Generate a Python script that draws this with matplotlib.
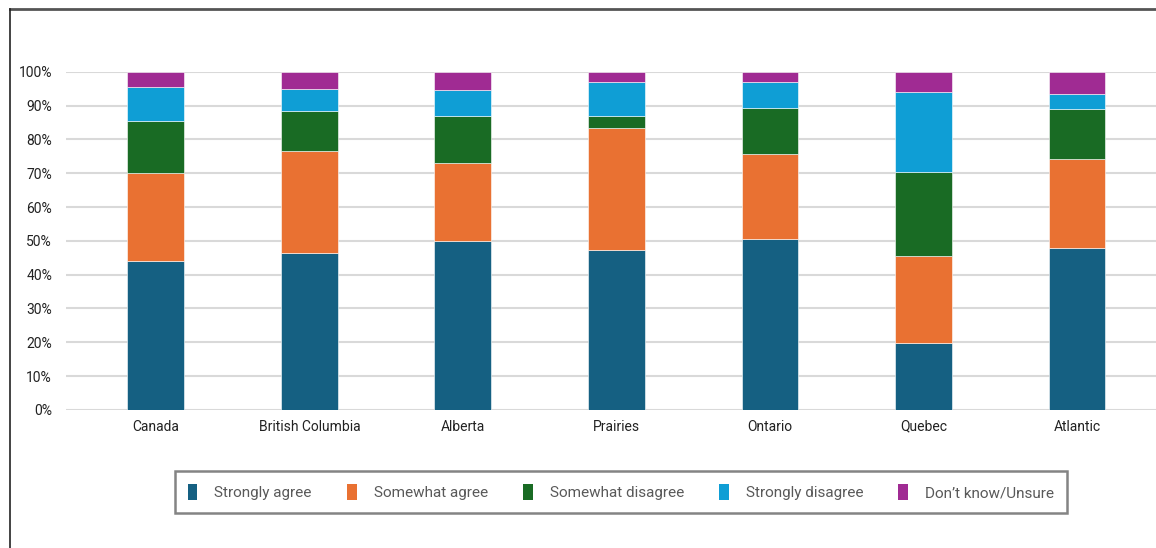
import matplotlib
matplotlib.use("Agg")
import matplotlib.pyplot as plt
import numpy as np
from matplotlib.patches import Patch
from matplotlib.lines import Line2D

plt.rcParams['font.family'] = ['Liberation Sans Narrow', 'Roboto', 'DejaVu Sans']

regions = ['Canada', 'British Columbia', 'Alberta', 'Prairies', 'Ontario', 'Quebec', 'Atlantic']
series = ['Strongly agree', 'Somewhat agree', 'Somewhat disagree', 'Strongly disagree', 'Don\u2019t know/Unsure']

strongly_agree = [44.0, 46.4, 50.0, 47.4, 50.5, 19.8, 47.9]
somewhat_agree = [26.0, 30.2, 23.1, 35.9, 25.1, 25.6, 26.3]
somewhat_disagree = [15.4, 11.7, 13.7, 3.5, 13.8, 25.1, 14.7]
strongly_disagree = [10.2, 6.7, 7.8, 10.3, 7.7, 23.5, 4.6]
dont_know = [4.4, 5.0, 5.4, 2.9, 2.9, 6.0, 6.5]

colors = ['#156082', '#E97132', '#196B24', '#0F9ED5', '#A02B93']

fig = plt.figure(figsize=(11.56, 5.48), dpi=100)
ax = fig.add_axes([0.057, 0.252, 0.943, 0.617])

x = np.arange(len(regions))
bottom = np.zeros(len(regions))
for vals, name, c in zip([strongly_agree, somewhat_agree, somewhat_disagree, strongly_disagree, dont_know],
                         series, colors):
    ax.bar(x, vals, 0.37, bottom=bottom, color=c, edgecolor='white', linewidth=0.4, label=name, zorder=3)
    bottom += np.array(vals)

ax.set_ylim(0, 100)
ax.set_xlim(-0.586, 6.515)
ax.set_yticks(range(0, 101, 10))
ax.set_yticklabels([f'{v}%' for v in range(0, 101, 10)])
ax.set_xticks(x)
ax.set_xticklabels(regions)
ax.tick_params(axis='both', length=0, labelsize=10, colors='#222222')
ax.tick_params(axis='y', pad=10)
ax.tick_params(axis='x', pad=7)
ax.grid(axis='y', color='#d9d9d9', lw=1.5, zorder=0)
for s in ax.spines.values():
    s.set_visible(False)

# outer frame (only top and left visible)
fig.add_artist(Line2D([0.0087, 1.0], [0.9836, 0.9836], transform=fig.transFigure, color='#555555', lw=2))
fig.add_artist(Line2D([0.0087, 0.0087], [0.0, 0.9836], transform=fig.transFigure, color='#222222', lw=1.2))

handles = [Patch(facecolor=c, edgecolor='none') for c in colors]
leg = fig.legend(handles, series, loc='center', bbox_to_anchor=(0.537, 0.102), ncol=5,
                 frameon=True, fancybox=False, fontsize=11, handlelength=0.65, handleheight=1.3,
                 handletextpad=1.1, columnspacing=2.3, borderpad=0.85, borderaxespad=0,
                 labelcolor='#595959')
leg.get_frame().set_edgecolor('#666666')
leg.get_frame().set_linewidth(1.8)

fig.savefig('out.png', dpi=100)
